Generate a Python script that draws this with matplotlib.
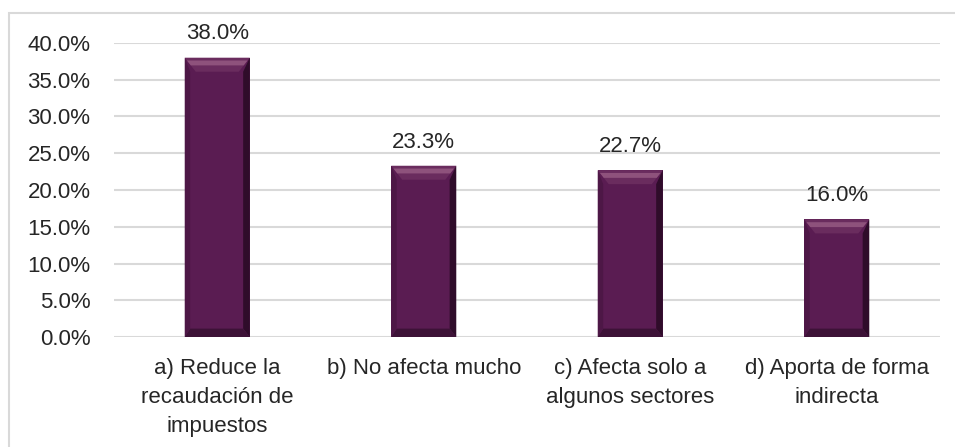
import matplotlib
matplotlib.use('Agg')
import matplotlib.pyplot as plt
from matplotlib.patches import Polygon, Rectangle

categories = ['a) Reduce la\nrecaudación de\nimpuestos', 'b) No afecta mucho',
              'c) Afecta solo a\nalgunos sectores', 'd) Aporta de forma\nindirecta']
values = [38.0, 23.3, 22.7, 16.0]
yticks = [0, 5, 10, 15, 20, 25, 30, 35, 40]

plt.rcParams['font.family'] = ['Liberation Sans', 'DejaVu Sans']

W, H = 955, 447
fig = plt.figure(figsize=(W / 100, H / 100), dpi=100)
ax = fig.add_axes([114 / W, 1 - 337 / H, (940 - 114) / W, (337 - 43) / H])

# outer chart border
fig.patches.append(Rectangle((9 / W, -0.1), 1.0, 1 - 13 / H + 0.1, transform=fig.transFigure,
                             fill=False, edgecolor='#d9d9d9', linewidth=1.5))

x = list(range(len(categories)))
bw = 0.315
bars = ax.bar(x, values, width=bw, color='#5a1c52', zorder=3)

ax.set_xlim(-0.5, len(categories) - 0.5)
ax.set_ylim(0, 40)

# bevel on each bar
px_x = (len(categories)) / (940 - 114)
px_y = 40 / (337 - 43)
dx = 11 * px_x
dy = 14 * px_y
for b in bars:
    x0, x1 = b.get_x(), b.get_x() + b.get_width()
    y0, y1 = 0, b.get_height()
    ax.add_patch(Polygon([(x0, y1), (x1, y1), (x1 - dx, y1 - dy), (x0 + dx, y1 - dy)],
                         closed=True, color='#6a2c5e', zorder=4, lw=0))
    ax.add_patch(Polygon([(x0 + 0.2 * dx, y1 - 0.2 * dy), (x1 - 0.2 * dx, y1 - 0.2 * dy),
                          (x1 - 0.55 * dx, y1 - 0.55 * dy), (x0 + 0.55 * dx, y1 - 0.55 * dy)],
                         closed=True, color='#8e527c', zorder=4, lw=0))
    ax.add_patch(Polygon([(x1, y1), (x1, y0), (x1 - dx * 0.6, y0 + dy * 0.6), (x1 - dx * 0.6, y1 - dy)],
                         closed=True, color='#2f0c2a', zorder=4, lw=0))
    ax.add_patch(Polygon([(x0, y0), (x1, y0), (x1 - dx * 0.6, y0 + dy * 0.6), (x0 + dx * 0.5, y0 + dy * 0.6)],
                         closed=True, color='#3d1237', zorder=4, lw=0))
    ax.add_patch(Polygon([(x0, y1), (x0, y0), (x0 + dx * 0.5, y0 + dy * 0.6), (x0 + dx * 0.5, y1 - dy)],
                         closed=True, color='#4d1746', zorder=4, lw=0))
    ax.text(b.get_x() + b.get_width() / 2, y1 + 1.8, f'{y1:.1f}%', ha='center', va='bottom',
            fontsize=16, color='#262626')

ax.set_yticks(yticks)
ax.set_yticklabels([f'{t:.1f}%' for t in yticks], fontsize=16, color='#262626')
ax.set_xticks(x)
ax.set_xticklabels(categories, fontsize=16, color='#262626', linespacing=1.5, va='top')
ax.tick_params(axis='both', length=0)
ax.tick_params(axis='y', pad=17)
ax.tick_params(axis='x', pad=15)
ax.grid(axis='y', color='#d9d9d9', linewidth=1.5, zorder=0)
for s in ax.spines.values():
    s.set_visible(False)

fig.savefig('out.png', dpi=100)
